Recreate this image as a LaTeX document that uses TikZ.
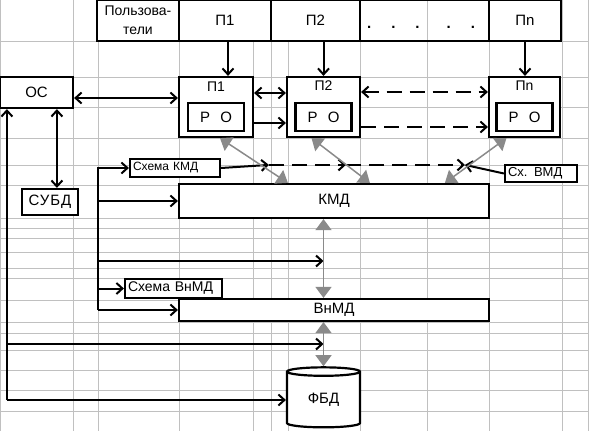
\documentclass[tikz,border=0pt]{standalone}
\usepackage{fontspec}
\setmainfont{Liberation Sans}
\usetikzlibrary{arrows.meta,shapes.geometric,calc}
\definecolor{gdgrid}{HTML}{C0C0C0}
\definecolor{gdlink}{HTML}{8A8A8A}
\tikzset{
  blk/.style={draw,line width=2.2pt,fill=white,inner sep=0pt,font=\fontsize{15}{17}\selectfont},
  hcell/.style={blk,minimum height=41pt},
  sch/.style={blk,inner xsep=3pt,align=left},
  spaced/.style={font=\fontsize{15}{17}\selectfont\addfontfeature{LetterSpace=#1}},
  wire/.style={line width=2pt},
  harr/.style={wire,-{Straight Barb[length=6pt,width=11pt]}},
  darr/.style={wire,{Straight Barb[length=6pt,width=11pt]}-{Straight Barb[length=6pt,width=11pt]}},
  dashe/.style={dash pattern=on 15pt off 8pt},
  garr/.style={{Triangle[length=11pt,width=16pt]}-{Triangle[length=11pt,width=16pt]},
               line width=1.5pt,draw=gdlink,fill=gdlink},
  gridl/.style={draw=gdgrid,line width=1pt},
}

\begin{document}
\begin{tikzpicture}[x=1pt,y=-1pt]
  \useasboundingbox (0,0) rectangle (589,431);
  % sheet grid
  \foreach \gx in {0.5,73,98,179,253,271,288,360,427,489,562,588}
    \draw[gridl] (\gx,0) -- (\gx,431);
  \foreach \gy in {41,77,107,138,165,185,218,228,238,252,268,278,300,322,333,350,370,390,411}
    \draw[gridl] (0,\gy) -- (589,\gy);

  % users row
  \node[hcell,minimum width=82pt,align=center,font=\fontsize{14}{19}\selectfont] (usr) at (138,20.5) {Пользова-\\тели};
  \node[hcell,minimum width=92pt] (h1) at (225,20.5) {П1};
  \node[hcell,minimum width=89pt] (h2) at (315.5,20.5) {П2};
  \node[hcell,fill=none,minimum width=129pt] (hdots) at (424.5,20.5) {};
  \node[font=\fontsize{15}{17}\selectfont\bfseries,inner sep=0pt] (dots) at (421,27)
    {.\hspace{20pt}.\hspace{20pt}.\hspace{27pt}.\hspace{20pt}.};
  \node[hcell,minimum width=72pt] (hn) at (525,20.5) {Пn};

  % processes
  \node[blk,minimum width=74pt,minimum height=60pt] (p1) at (216,107) {};
  \node[blk,minimum width=73pt,minimum height=60pt] (p2) at (323.5,107) {};
  \node[blk,minimum width=71pt,minimum height=60pt] (pn) at (524.5,107) {};
  \node[font=\fontsize{14}{16}\selectfont] (p1l) at ($(p1.north)+(0,11)$) {П1};
  \node[font=\fontsize{14}{16}\selectfont] (p2l) at ($(p2.north)+(0,10)$) {П2};
  \node[font=\fontsize{14}{16}\selectfont] (pnl) at ($(pn.north)+(0,10)$) {Пn};
  \node[blk,spaced=70,minimum width=56pt,minimum height=28pt] (ro1) at ($(p1)+(0,10)$) {РО};
  \node[blk,spaced=70,minimum width=56pt,minimum height=28pt] (ro2) at ($(p2)+(0,10)$) {РО};
  \node[blk,spaced=70,minimum width=56pt,minimum height=28pt] (ron) at ($(pn)+(0,10)$) {РО};

  % system side
  \node[blk,minimum width=73pt,minimum height=31pt] (os) at (36.5,92.5) {ОС};
  \node[blk,spaced=6,minimum width=56pt,minimum height=26pt] (subd) at (50,202) {СУБД};
  \node[blk,minimum width=310pt,minimum height=34pt] (kmd) at (334,201) {КМД};
  \node[blk,minimum width=310pt,minimum height=22pt] (vnmd) at (334,310) {ВнМД};
  \node[sch,text width=84pt,minimum height=18pt,font=\fontsize{12}{14}\selectfont] (skmd) at (175,168) {Схема КМД};
  \node[sch,text width=91pt,minimum height=19pt,font=\fontsize{14}{16}\selectfont] (svnmd) at (173.5,288.5) {Схема ВнМД};
  \node[sch,text width=66pt,minimum height=17pt,font=\fontsize{13}{15}\selectfont] (svmd) at (541,173.5) {Сх. ВМД};
  \node[draw,line width=2.2pt,fill=white,cylinder,shape border rotate=90,aspect=0.27,
        minimum width=73pt,minimum height=60pt,inner sep=0pt,
        font=\fontsize{15}{17}\selectfont] (fbd) at (323.5,400) {ФБД};

  % user links
  \draw[harr] ([xshift=3pt]h1.south) -- ([xshift=3pt]h1.south |- p1.north);
  \draw[harr] (p2.north |- h2.south) -- (p2.north);
  \draw[harr] (hn.south) -- (hn.south |- pn.north);
  \draw[darr] ([yshift=-5.5pt]os.east) -- ([yshift=-5.5pt]os.east -| p1.west);
  \draw[darr] ([yshift=14pt]p1.east) -- ([yshift=14pt]p1.east -| p2.west);
  \draw[harr] ([yshift=-16pt]p1.east) -- ([yshift=-16pt]p1.east -| p2.west);
  \draw[darr,dashe] ([yshift=15pt]p2.east) -- ([yshift=15pt]p2.east -| pn.west);
  \draw[harr,dashe] ([yshift=-20pt]p2.east) -- ([yshift=-20pt]p2.east -| pn.west);

  % OS lines
  \coordinate (lbus) at ([xshift=8pt]os.south west);
  \coordinate (dbl) at ([xshift=58pt]os.south west);
  \coordinate (j2) at (fbd.north |- 0,344);
  \draw[darr] (dbl) -- (dbl |- subd.north);
  \draw[harr] (lbus |- fbd.west) -- (lbus);
  \draw[harr] (lbus |- fbd.west) -- (fbd.west);
  \draw[harr] (lbus |- j2) -- (j2);

  % scheme bus
  \coordinate (bus) at (98,0);
  \coordinate (j1) at (fbd.north |- 0,261);
  \draw[harr] (bus |- vnmd.west) |- (skmd.west);
  \draw[harr] (bus |- kmd.west) -- (kmd.west);
  \draw[harr] (bus |- j1) -- (j1);
  \draw[harr] (bus |- svnmd.west) -- (svnmd.west);
  \draw[harr] (bus |- vnmd.west) -- (vnmd.west);

  % KMD scheme line
  \coordinate (k1) at ([xshift=91pt,yshift=18pt]kmd.north west);
  \coordinate (k2) at ([xshift=168pt,yshift=18pt]kmd.north west);
  \coordinate (k3) at ([xshift=287pt,yshift=18pt]kmd.north west);
  \draw[harr] (skmd.east) -- (k1);
  \draw[harr,dashe] (k1) -- (k2);
  \draw[harr,dashe] (k2) -- (k3);
  \draw[harr] (svmd.west) -- (k3);

  % data exchange
  \draw[garr] ([xshift=4pt]p1.south) -- ([xshift=110pt]kmd.north west);
  \draw[garr] ([xshift=-12pt]p2.south) -- ([xshift=192pt]kmd.north west);
  \draw[garr] ([xshift=-18pt]pn.south) -- ([xshift=267pt]kmd.north west);
  \draw[garr] (kmd.south -| fbd.north) -- (vnmd.north -| fbd.north);
  \draw[garr] (vnmd.south -| fbd.north) -- (fbd.north);
\end{tikzpicture}
\end{document}
